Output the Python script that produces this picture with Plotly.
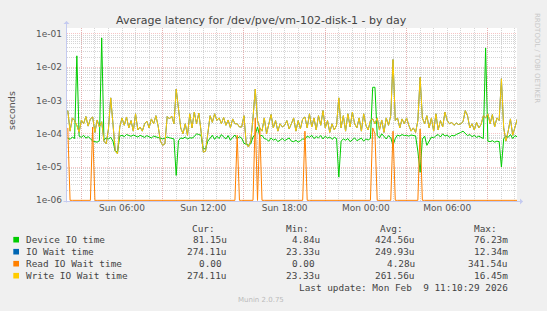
import numpy as np
import pandas as pd
import plotly.graph_objects as go

# ---------------- data (values in microseconds, 10-minute samples) ----------------
start_time = "2026-02-08 02:00"
step = "10min"

device_us = [
    75, 68, 80, 72, 22000, 85, 78, 90, 74, 82,
    72, 60, 58, 56, 62, 76000, 66, 74, 70, 78,
    60, 30, 28, 85, 90, 82, 95, 88, 84, 92,
    86, 80, 90, 84, 78, 88, 82, 75, 85, 80,
    78, 72, 70, 74, 80, 76, 72, 70, 5.6, 62,
    75, 72, 80, 70, 76, 74, 82, 100, 95, 90,
    36, 35, 60, 75, 90, 68, 85, 72, 95, 80,
    70, 88, 64, 78, 92, 70, 82, 74, 52, 48,
    46, 50, 80, 95, 160, 85, 90, 72, 68, 60,
    75, 64, 70, 58, 66, 72, 62, 68, 75, 60,
    58, 64, 56, 62, 70, 68, 85, 78, 90, 72,
    82, 76, 88, 70, 85, 74, 80, 68, 78, 72,
    5, 60, 70, 64, 72, 58, 66, 75, 62, 68,
    74, 60, 70, 65, 72, 2500, 2500, 90, 75, 100,
    82, 70, 88, 76, 45, 72, 92, 85, 95, 88,
    90, 85, 92, 88, 86, 30, 7, 70, 85, 45,
    60, 80, 75, 88, 95, 80, 100, 85, 92, 78,
    90, 86, 95, 100, 110, 120, 100, 88, 95, 82,
    90, 78, 85, 80, 72, 38000, 60, 58, 62, 56,
    60, 58, 10, 70, 85, 78, 95, 72, 88, 81.15,
]

write_us = [
    500, 120, 300, 250, 180, 110, 260, 200, 330, 170,
    280, 320, 110, 260, 160, 230, 60, 50, 140, 1200,
    200, 30, 25, 160, 300, 180, 320, 150, 250, 120,
    400, 130, 160, 120, 200, 240, 150, 280, 200, 350,
    170, 60, 45, 50, 330, 280, 340, 200, 2200, 450,
    150, 100, 200, 90, 400, 150, 450, 200, 420, 120,
    28, 30, 100, 350, 220, 400, 250, 300, 200, 310,
    180, 260, 150, 280, 200, 200, 160, 160, 350, 50,
    40, 60, 300, 2200, 250, 150, 120, 300, 100, 200,
    380, 150, 250, 120, 200, 160, 180, 250, 140, 200,
    300, 120, 250, 140, 280, 320, 150, 400, 160, 300,
    130, 350, 180, 500, 150, 250, 110, 200, 130, 180,
    1200, 150, 350, 120, 400, 160, 450, 200, 150, 300,
    120, 400, 180, 130, 250, 280, 200, 300, 130, 260,
    110, 300, 180, 350, 17000, 250, 300, 150, 280, 200,
    300, 180, 120, 150, 110, 250, 5000, 300, 200, 350,
    150, 300, 120, 400, 130, 250, 160, 450, 250, 200,
    220, 180, 210, 190, 200, 230, 500, 350, 150, 200,
    130, 220, 150, 190, 350, 300, 400, 200, 380, 160,
    300, 250, 4500, 150, 60, 120, 280, 90, 150, 274.11,
]

# IO wait (read + write) coincides with the write line and is hidden beneath it
io_wait_us = list(write_us)

read_us = [
    150, 0, 0, 0, 0, 0, 0, 0, 0, 0,
    0, 160, 0, 0, 0, 0, 0, 0, 0, 0,
    0, 0, 0, 0, 0, 0, 0, 0, 0, 0,
    0, 0, 0, 0, 0, 0, 0, 0, 0, 0,
    0, 0, 0, 0, 0, 0, 0, 0, 0, 0,
    0, 0, 0, 0, 0, 0, 0, 0, 0, 0,
    0, 0, 0, 0, 0, 0, 0, 0, 0, 0,
    0, 0, 0, 0, 0, 90, 0, 0, 0, 0,
    0, 0, 0, 300, 0, 150, 0, 0, 0, 0,
    0, 0, 0, 0, 0, 0, 0, 0, 0, 0,
    0, 0, 0, 0, 0, 120, 0, 0, 0, 0,
    0, 0, 0, 0, 0, 0, 0, 0, 0, 0,
    0, 0, 0, 0, 0, 0, 0, 0, 0, 0,
    0, 0, 0, 0, 0, 150, 100, 0, 0, 0,
    0, 0, 0, 0, 120, 0, 0, 0, 0, 0,
    0, 0, 0, 0, 0, 0, 140, 0, 0, 0,
    0, 0, 0, 0, 0, 0, 0, 0, 0, 0,
    0, 0, 0, 0, 0, 0, 0, 0, 0, 0,
    0, 0, 0, 0, 0, 0, 0, 0, 0, 0,
    0, 0, 0, 0, 0, 0, 0, 0, 0, 0,
]

series_names = ["Device IO time", "IO Wait time", "Read IO Wait time", "Write IO Wait time"]
series_colors = ["#00CC00", "#0066B3", "#FF8000", "#FFCC00"]
cur_vals = ["81.15u", "274.11u", "0.00", "274.11u"]
min_vals = ["4.84u", "23.33u", "0.00", "23.33u"]
avg_vals = ["424.56u", "249.93u", "4.28u", "261.56u"]
max_vals = ["76.23m", "12.34m", "341.54u", "16.45m"]

y_tick_vals = [1e-6, 1e-5, 1e-4, 1e-3, 1e-2, 1e-1]
y_tick_text = ["1e-06", "1e-05", "1e-04", "1e-03", "1e-02", "1e-01"]
x_label_times = ["2026-02-08 06:00", "2026-02-08 12:00", "2026-02-08 18:00",
                 "2026-02-09 00:00", "2026-02-09 06:00"]
x_major_times = ["2026-02-08 03:00", "2026-02-08 09:00", "2026-02-08 15:00",
                 "2026-02-08 21:00", "2026-02-09 03:00", "2026-02-09 09:00"]
x_range = ["2026-02-08 01:56:24", "2026-02-09 11:09:00"]

title_text = "Average latency for /dev/pve/vm-102-disk-1 - by day"
last_update = "Last update: Mon Feb\u00a0\u00a09 11:10:29 2026"
version_text = "Munin 2.0.75"
side_text = "RRDTOOL / TOBI OETIKER"

# ---------------- figure ----------------
W, H = 547, 311
L, R, T, B = 67, 30, 28, 110
PW, PH = W - L - R, H - T - B


def px(x):
    return (x - L) / PW


def py(y):
    return (H - B - y) / PH


times = pd.date_range(start_time, periods=len(device_us), freq=step)
floor = 1e-6
to_s = 1e-6

series_data = [
    np.array(device_us) * to_s,
    np.array(io_wait_us) * to_s,
    np.array(read_us) * to_s,
    np.array(write_us) * to_s,
]

fig = go.Figure()
for name, color, vals in zip(series_names, series_colors, series_data):
    vals = np.where(vals <= 0, floor, vals)  # zero drawn at the log-axis floor
    fig.add_trace(go.Scatter(x=times, y=vals, mode="lines", name=name,
                             line=dict(color=color, width=1), showlegend=False))

major_grid = "rgba(240,150,150,0.55)"
minor_grid = "rgba(185,185,185,0.6)"

minor_y = [k * 10.0 ** e for e in range(-6, 0) for k in range(2, 10)]

fig.update_layout(
    width=W, height=H,
    margin=dict(l=L, r=R, t=T, b=B),
    paper_bgcolor="#F0F0F0",
    plot_bgcolor="#FFFFFF",
    font=dict(family="DejaVu Sans", size=9, color="#555555"),
    xaxis=dict(
        type="date", range=x_range,
        tickmode="array", tickvals=x_major_times, showticklabels=False,
        showgrid=True, gridcolor=major_grid, griddash="1px,1px", gridwidth=1,
        ticks="", showline=False, zeroline=False,
        minor=dict(dtick=3600000, tick0="2026-02-08 00:00", showgrid=True,
                   gridcolor=minor_grid, griddash="1px,1px", gridwidth=1, ticks=""),
    ),
    xaxis2=dict(
        type="date", range=x_range, overlaying="x", anchor="y", side="bottom",
        matches="x",
        tickmode="array", tickvals=x_label_times, tickformat="%a %H:%M",
        showgrid=False, ticks="", showline=False, zeroline=False,
        tickfont=dict(size=9, color="#555555"),
    ),
    yaxis=dict(
        type="log", range=[np.log10(floor) - 0.02, np.log10(0.151)],
        tickmode="array", tickvals=y_tick_vals, ticktext=y_tick_text,
        showgrid=True, gridcolor=major_grid, griddash="1px,1px", gridwidth=1,
        ticks="", ticklabelstandoff=4, showline=False, zeroline=False,
        tickfont=dict(size=9, color="#555555"),
        minor=dict(tickmode="array", tickvals=minor_y, showgrid=True,
                   gridcolor=minor_grid, griddash="1px,1px", gridwidth=1, ticks=""),
    ),
)

# invisible trace so the label axis is drawn
fig.add_trace(go.Scatter(x=[times[0]], y=[1e-3], xaxis="x2", mode="markers",
                         marker=dict(opacity=0), showlegend=False, hoverinfo="skip"))

ann = []
axis_col = "#C4CAF0"
# axis arrows
ann.append(dict(xref="paper", yref="paper", x=px(66.5), y=py(21), ax=0, ay=183,
                showarrow=True, arrowhead=1, arrowsize=1, arrowwidth=1,
                arrowcolor=axis_col, text=""))
ann.append(dict(xref="paper", yref="paper", x=px(523), y=py(201.5), ax=-461, ay=0,
                showarrow=True, arrowhead=1, arrowsize=1, arrowwidth=1,
                arrowcolor=axis_col, text=""))
# title
ann.append(dict(xref="paper", yref="paper", x=px(261), y=py(20), text=title_text,
                showarrow=False, xanchor="center", yanchor="middle",
                font=dict(size=11, color="#444444")))
# y axis title
ann.append(dict(xref="paper", yref="paper", x=px(11), y=py(111), text="seconds",
                showarrow=False, textangle=-90, xanchor="center", yanchor="middle",
                font=dict(size=9.5, color="#555555")))
# side text
ann.append(dict(xref="paper", yref="paper", x=px(537), y=py(58), text=side_text,
                showarrow=False, textangle=90, xanchor="center", yanchor="middle",
                font=dict(size=7, color="#C8C8C8")))

mono = dict(family="DejaVu Sans Mono", size=9.4, color="#444444")
col_right = [227.7, 321.3, 415.7, 509.3]
head_right = [216, 309.5, 403.5, 497.5]
headers = ["Cur:", "Min:", "Avg:", "Max:"]
for hx, htxt in zip(head_right, headers):
    ann.append(dict(xref="paper", yref="paper", x=px(hx), y=py(228), text=htxt,
                    showarrow=False, xanchor="right", yanchor="middle", borderpad=0,
                    font=mono))

row_y = [239.7, 251.7, 263.7, 275.7]
shapes = []
for k, name in enumerate(series_names):
    yy = row_y[k]
    shapes.append(dict(type="rect", xref="paper", yref="paper",
                       x0=px(13.3), x1=px(19), y0=py(yy + 2.8), y1=py(yy - 2.8),
                       fillcolor=series_colors[k], line=dict(width=0)))
    ann.append(dict(xref="paper", yref="paper", x=px(25), y=py(yy), text=name,
                    showarrow=False, xanchor="left", yanchor="middle", borderpad=0,
                    font=mono))
    for cx, vals in zip(col_right, [cur_vals, min_vals, avg_vals, max_vals]):
        v = vals[k]
        if v[-1].isdigit():
            v = v + "\u00a0"
        ann.append(dict(xref="paper", yref="paper", x=px(cx), y=py(yy), text=v,
                        showarrow=False, xanchor="right", yanchor="middle", borderpad=0,
                        font=mono))

ann.append(dict(xref="paper", yref="paper", x=px(509.3), y=py(287.7), text=last_update,
                showarrow=False, xanchor="right", yanchor="middle", borderpad=0,
                font=mono))
ann.append(dict(xref="paper", yref="paper", x=px(261), y=py(300.3), text=version_text,
                showarrow=False, xanchor="center", yanchor="middle",
                font=dict(size=7, color="#BBBBBB")))

fig.update_layout(annotations=ann, shapes=shapes)
fig.write_html("out.html")
